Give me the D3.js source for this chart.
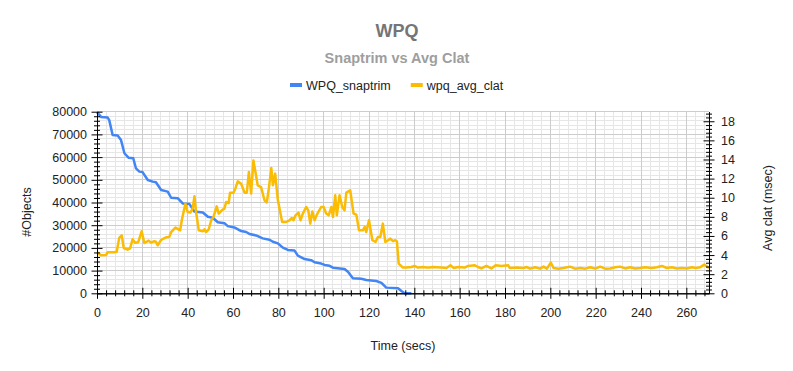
<!DOCTYPE html>
<html>
<head>
<meta charset="utf-8">
<script src="https://cdn.jsdelivr.net/npm/d3@7"></script>
<style>
  body { margin: 0; background: #fff; }
  svg text { font-family: "Liberation Sans", Arial, sans-serif; }
</style>
</head>
<body>
<div id="chart"></div>
<script>
//          Chart data
var snapTime = [0, 1.8, 4.7, 5.4, 6.9, 9.1, 10.6, 12.1, 14, 16, 17.2, 18.7, 20.1, 22.4, 24.6, 26, 28.3, 31.2, 32.7, 35.6,
    37.8, 40.8, 43, 46.7, 48.9, 51.1, 53.3, 56.2, 57.7, 60.6, 63.6, 65.8, 67.3, 70.2, 73.1, 76.1, 77.6, 79.8, 82, 84.2,
    87.1, 88.6, 91.6, 94.5, 96, 98.9, 100.4, 102.6, 104.1, 109.2, 110.7, 112.9, 116.6, 118.8, 123.2, 125.5, 127.6, 132.8,
    134.3, 135.7, 138.7];
var snapObjects = [79800, 77700, 77400, 76300, 69700, 69500, 67500, 61700, 59700, 59500, 55000, 53600, 53400, 49900, 49200,
    48900, 45500, 44800, 42100, 41900, 39600, 39300, 36000, 35600, 33700, 33300, 31300, 30900, 29600, 29000, 27400, 27000,
    26100, 25500, 24200, 23600, 22700, 22000, 20100, 19100, 18900, 16600, 15100, 14600, 13700, 13100, 12500, 12100, 11300,
    10700, 9500, 6600, 6400, 5900, 5400, 4600, 2500, 2200, 1000, 0, 0];

var clatTime = [0, 1.8, 4, 4.7, 7.6, 8.7, 9.8, 10.9, 11.8, 13.5, 14.6, 15.7, 16.8, 18.2, 19.7, 20.9, 22.8, 23.8, 25.3, 26,
    26.8, 28.3, 30.5, 31.9, 32.7, 34.6, 36.7, 37.4, 39, 40, 41.2, 42.2, 43, 43.7, 44.9, 46.7, 47.4, 48.1, 49.3, 50.4,
    51.4, 52.8, 53.7, 55.2, 56.2, 57, 58.1, 58.7, 60.2, 61.1, 62.1, 63.6, 65.1, 66.1, 67, 68, 69, 69.9, 70.9, 72.4,
    73.9, 74.9, 75.8, 76.9, 77.6, 78.6, 79.8, 81.7, 83.5, 84.9, 86, 86.7, 87.6, 88.9, 89.8, 90.8, 92.3, 93.2, 94.1, 95,
    96, 97, 98.9, 100, 101.1, 102.2, 103.4, 104.1, 105.1, 105.8, 107, 108.2, 109.2, 110, 111.7, 113.2, 114.4, 115.6, 117.3, 118.1,
    118.8, 120, 121.5, 122.9, 123.9, 125, 126.1, 127.2, 128.4, 129.4, 130.6, 131.6, 132.3, 133.1, 135, 136.5, 138.7, 140.1,
    141.6, 143.8, 145.3, 146.8, 148.2, 151.9, 154.2, 155.9, 157.4, 159.3, 162.2, 163.7, 166.7, 168.1, 169.6, 171.8, 174, 175.9,
    178.4, 181.4, 182.1, 185.1, 188.1, 189.6, 191.1, 193.3, 195.5, 197, 198.5, 200.2, 201.4, 203.6, 205.8, 208.7, 210.9, 213.2,
    215.4, 217.6, 219.8, 222, 224.2, 226.4, 228.6, 230.8, 233, 235.2, 237.4, 239.6, 241.8, 244.8, 247, 249.2, 251.4, 253.6,
    255.8, 258, 260.2, 262.4, 264.3, 266.1, 267.9, 270];
var clatMsec = [4.3, 3.97, 4.0, 4.3, 4.3, 4.35, 5.8, 6.07, 4.74, 4.57, 4.7, 5.65, 5.3, 5.35, 6.49, 5.26, 5.51, 5.3, 5.45, 5.4,
    5.02, 5.6, 5.86, 5.9, 6.41, 6.87, 6.59, 7.64, 9.38, 8.51, 8.45, 8.86, 10.15, 8.5, 6.59, 6.49, 6.7, 6.41, 6.7, 7.64,
    8.0, 9.1, 8.34, 8.7, 8.86, 9.55, 9.45, 10.53, 10.53, 11.0, 11.71, 11.46, 10.53, 10.53, 12.69, 10.43, 13.9, 12.7, 11.3, 11.1,
    9.73, 9.5, 10.95, 13.1, 11.3, 12.52, 9.73, 7.46, 7.46, 7.64, 7.88, 7.64, 8.16, 8.44, 7.64, 8.34, 9.03, 8.68, 7.29, 8.57,
    7.64, 8.23, 9.03, 9.03, 8.34, 8.16, 9.03, 7.98, 10.25, 8.16, 10.25, 9.03, 8.68, 10.53, 10.78, 8.34, 8.23, 6.59, 6.59, 6.94,
    6.41, 7.64, 5.55, 5.37, 5.9, 5.9, 7.29, 5.37, 5.55, 5.72, 5.45, 5.55, 5.45, 3.11, 2.69, 2.69, 2.75, 2.86,
    2.69, 2.75, 2.69, 2.69, 2.75, 2.69, 2.65, 2.93, 2.65, 2.75, 2.69, 2.86, 2.93, 2.75, 2.6, 2.86, 2.6, 2.93,
    2.86, 2.93, 2.65, 2.69, 2.65, 2.75, 2.58, 2.72, 2.58, 2.79, 2.58, 3.21, 2.65, 2.58, 2.65, 2.79, 2.58, 2.65,
    2.58, 2.72, 2.58, 2.79, 2.58, 2.6, 2.72, 2.79, 2.6, 2.72, 2.6, 2.65, 2.72, 2.65, 2.72, 2.86, 2.65, 2.72,
    2.6, 2.65, 2.6, 2.72, 2.65, 2.72, 3.0, 2.65, 2.79, 2.72];

var xTicks = [0, 20, 40, 60, 80, 100, 120, 140, 160, 180, 200, 220, 240, 260];
var leftTicks = [0, 10000, 20000, 30000, 40000, 50000, 60000, 70000, 80000];
var rightTicks = [0, 2, 4, 6, 8, 10, 12, 14, 16, 18];
var seriesNames = ["WPQ_snaptrim", "wpq_avg_clat"];
var seriesColors = ["#4285f4", "#fbbc04"];

//          Chart settings
var chartW = 793, chartH = 371;
var plotLeft = 97, plotRight = 709, plotTop = 111.7, plotBottom = 293.3;

var svg = d3.select("#chart").append("svg")
    .attr("width", chartW)
    .attr("height", chartH);

var x = d3.scaleLinear().domain([0, 270]).range([plotLeft, plotRight]);
var yL = d3.scaleLinear().domain([0, 80000]).range([plotBottom, plotTop]);
var yR = d3.scaleLinear().domain([0, 19]).range([plotBottom, plotTop]);

//          Grid
var grid = svg.append("g");
grid.selectAll("line.vminor").data(d3.range(4, 270, 4).filter(function(d) { return d % 20 != 0; }))
    .enter().append("line")
    .attr("x1", function(d) { return x(d); }).attr("x2", function(d) { return x(d); })
    .attr("y1", plotTop).attr("y2", plotBottom)
    .style("stroke", "#e6e6e6");
grid.selectAll("line.hminor").data(d3.range(2000, 80000, 2000).filter(function(d) { return d % 10000 != 0; }))
    .enter().append("line")
    .attr("x1", plotLeft).attr("x2", plotRight)
    .attr("y1", function(d) { return yL(d); }).attr("y2", function(d) { return yL(d); })
    .style("stroke", "#e6e6e6");
grid.selectAll("line.vmajor").data(xTicks.filter(function(d) { return d > 0; }))
    .enter().append("line")
    .attr("x1", function(d) { return x(d); }).attr("x2", function(d) { return x(d); })
    .attr("y1", plotTop).attr("y2", plotBottom)
    .style("stroke", "#cccccc");
grid.selectAll("line.hmajor").data(leftTicks.filter(function(d) { return d > 0; }))
    .enter().append("line")
    .attr("x1", plotLeft).attr("x2", plotRight)
    .attr("y1", function(d) { return yL(d); }).attr("y2", function(d) { return yL(d); })
    .style("stroke", "#cccccc");
grid.selectAll("line").attr("shape-rendering", "crispEdges");

//          Lines
var snapLine = d3.line()
    .x(function(d, i) { return x(snapTime[i]); })
    .y(function(d) { return yL(d); });
var clatLine = d3.line()
    .x(function(d, i) { return x(clatTime[i]); })
    .y(function(d) { return yR(d); });

svg.append("path").datum(snapObjects)
    .attr("d", snapLine)
    .style("fill", "none").style("stroke", seriesColors[0])
    .style("stroke-width", 2.5).style("stroke-linejoin", "round");
svg.append("path").datum(clatMsec)
    .attr("d", clatLine)
    .style("fill", "none").style("stroke", seriesColors[1])
    .style("stroke-width", 2.5).style("stroke-linejoin", "round");

//          Axes - ticks cross the axis line
function styleAxis(g, vertical, size) {
    g.select(".domain").style("stroke", "#000");
    g.selectAll(".tick line")
        .attr(vertical ? "x1" : "y1", -size)
        .attr(vertical ? "x2" : "y2", size)
        .style("stroke", "#000");
    g.selectAll("text").style("font-size", "12.5px").style("fill", "#222").attr("font-family", null);
}

var minorL = d3.range(0, 80001, 2000).filter(function(d) { return d % 10000 != 0; });
var minorR = d3.range(0, 19.01, 0.4).filter(function(d) { return Math.abs(d / 2 - Math.round(d / 2)) > 0.01; });
var minorX = d3.range(0, 271, 4).filter(function(d) { return d % 20 != 0; });

var gL = svg.append("g").attr("transform", "translate(" + plotLeft + ",0)");
gL.append("g").call(d3.axisLeft(yL).tickValues(minorL).tickFormat("").tickSizeOuter(0))
    .call(styleAxis, true, 3);
gL.append("g").call(d3.axisLeft(yL).tickValues(leftTicks).tickFormat(d3.format("d"))
        .tickSizeInner(5).tickPadding(5).tickSizeOuter(0))
    .call(styleAxis, true, 5.5);

var gR = svg.append("g").attr("transform", "translate(" + plotRight + ",0)");
gR.append("g").call(d3.axisRight(yR).tickValues(minorR).tickFormat("").tickSizeOuter(0))
    .call(styleAxis, true, 3);
gR.append("g").call(d3.axisRight(yR).tickValues(rightTicks).tickSizeInner(5).tickPadding(7).tickSizeOuter(0))
    .call(styleAxis, true, 5.5);

var gX = svg.append("g").attr("transform", "translate(0," + plotBottom + ")");
gX.append("g").call(d3.axisBottom(x).tickValues(minorX).tickFormat("").tickSizeOuter(0))
    .call(styleAxis, false, 3);
gX.append("g").call(d3.axisBottom(x).tickValues(xTicks).tickSizeInner(5).tickPadding(9.5).tickSizeOuter(0))
    .call(styleAxis, false, 5.5);

//          Titles
svg.append("text").text("WPQ")
    .attr("x", 397).attr("y", 37).attr("text-anchor", "middle")
    .style("font-size", "18px").style("font-weight", "bold").style("fill", "#757575");
svg.append("text").text("Snaptrim vs Avg Clat")
    .attr("x", 397).attr("y", 63).attr("text-anchor", "middle")
    .style("font-size", "14.5px").style("font-weight", "bold").style("fill", "#9e9e9e");

svg.append("text").text("Time (secs)")
    .attr("x", (plotLeft + plotRight) / 2).attr("y", 350).attr("text-anchor", "middle")
    .style("font-size", "12.5px").style("fill", "#222");
svg.append("text").text("#Objects")
    .attr("transform", "translate(31,212) rotate(-90)").attr("text-anchor", "middle")
    .style("font-size", "12.5px").style("fill", "#222");
svg.append("text").text("Avg clat (msec)")
    .attr("transform", "translate(772,208) rotate(-90)").attr("text-anchor", "middle")
    .style("font-size", "12.5px").style("fill", "#222");

//          Legend
var legend = svg.append("g");
var lx = 290;
seriesNames.forEach(function(name, i) {
    legend.append("rect")
        .attr("x", lx).attr("y", 83).attr("width", 12).attr("height", 4)
        .style("fill", seriesColors[i]);
    var t = legend.append("text").text(name)
        .attr("x", lx + 16).attr("y", 89.5)
        .style("font-size", "12.5px").style("fill", "#222");
    lx += 16 + t.node().getComputedTextLength() + 20;
});
</script>
</body>
</html>
